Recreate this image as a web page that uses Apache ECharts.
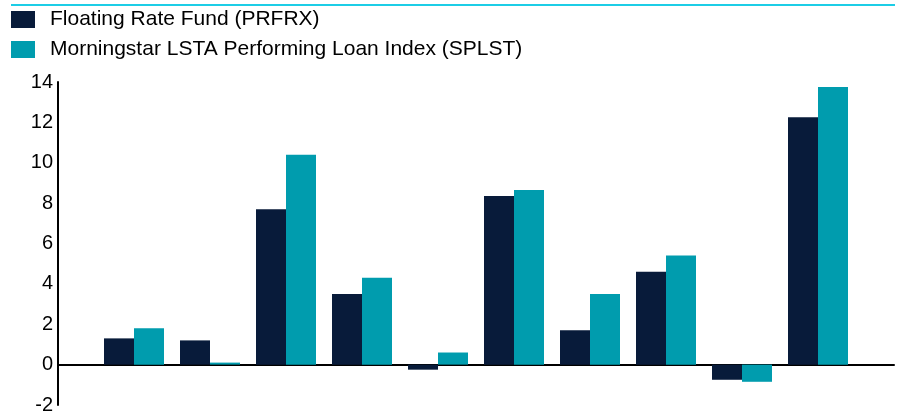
<!DOCTYPE html>
<html>
<head>
<meta charset="utf-8">
<script src="https://cdn.jsdelivr.net/npm/echarts@6/dist/echarts.min.js"></script>
<style>
    html, body { margin: 0; padding: 0; background: #fff; }
    #bar-chart { width: 902px; height: 416px; }
</style>
</head>
<body>
<div id="bar-chart"></div>
<script>
// periods (labels are not shown on the chart); empty ends give the padding either side
var categories = ['', 'P1', 'P2', 'P3', 'P4', 'P5', 'P6', 'P7', 'P8', 'P9', 'P10', ''];
var fundValues = [null, 1.3, 1.2, 7.7, 3.5, -0.25, 8.35, 1.7, 4.6, -0.75, 12.25, null];
var indexValues = [null, 1.8, 0.1, 10.4, 4.3, 0.6, 8.65, 3.5, 5.4, -0.85, 13.75, null];
var seriesNames = ['Floating Rate Fund (PRFRX)', 'Morningstar LSTA Performing Loan Index (SPLST)'];
var yTicks = [-2, 0, 2, 4, 6, 8, 10, 12, 14];

var barChart = echarts.init(document.getElementById('bar-chart'));

barChart.setOption({
    animation: false,
    textStyle: {
        fontFamily: '"Liberation Sans", Arial, sans-serif'
    },
    graphic: [{
        type: 'line',
        shape: { x1: 11, y1: 5, x2: 895, y2: 5 },
        style: { stroke: '#1ccde6', lineWidth: 2 }
    }],
    legend: {
        data: seriesNames,
        orient: 'vertical',
        left: 6,
        top: 4,
        itemWidth: 24,
        itemHeight: 17,
        itemGap: 9,
        icon: 'rect',
        selectedMode: false,
        textStyle: {
            fontSize: 21,
            color: '#000',
            padding: [0, 0, 0, 10]
        }
    },
    grid: {
        left: 58,
        right: 8,
        top: 82,
        bottom: 11,
        containLabel: false
    },
    xAxis: {
        type: 'category',
        data: categories,
        boundaryGap: false,
        axisLine: { lineStyle: { color: '#000', width: 2 } },
        axisTick: { show: false },
        axisLabel: { show: false },
        splitLine: { show: false }
    },
    yAxis: {
        type: 'value',
        min: yTicks[0],
        max: yTicks[yTicks.length - 1],
        interval: 2,
        axisLine: { show: true, lineStyle: { color: '#000', width: 2 } },
        axisTick: { show: false },
        splitLine: { show: false },
        axisLabel: {
            fontSize: 20,
            color: '#000',
            margin: 5
        }
    },
    series: [{
        name: seriesNames[0],
        type: 'bar',
        barWidth: 30,
        barGap: '0%',
        itemStyle: { color: '#081b3a' },
        data: fundValues
    },
    {
        name: seriesNames[1],
        type: 'bar',
        barWidth: 30,
        barGap: '0%',
        itemStyle: { color: '#009cae' },
        data: indexValues
    }]
});
</script>
</body>
</html>
